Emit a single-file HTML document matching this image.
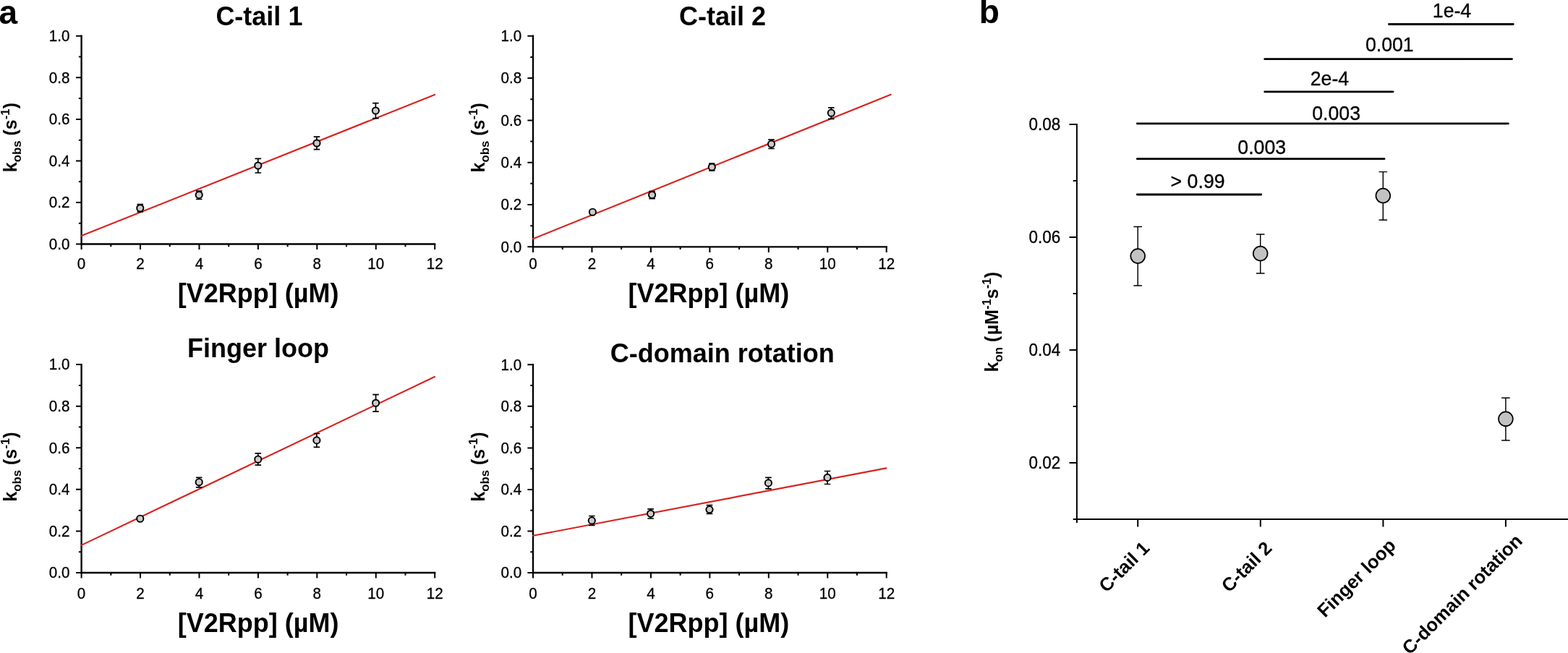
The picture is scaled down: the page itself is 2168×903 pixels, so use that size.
<!DOCTYPE html>
<html lang="en">
<head>
<meta charset="utf-8">
<title>Figure: kobs vs [V2Rpp] and kon comparison</title>
<style>
html,body{margin:0;padding:0;background:#fff;}
body{width:2168px;height:903px;overflow:hidden;}
svg{display:block;}
text{font-family:'Liberation Sans', sans-serif;fill:#000;}
.tk{font-size:20.6px;stroke:#000;stroke-width:0.3px;}
.tt{font-size:36px;font-weight:bold;}
.yt{font-size:25px;font-weight:bold;}
.sb{font-size:16.8px;}
.pl{font-size:46px;font-weight:bold;}
.bk{font-size:22.5px;stroke:#000;stroke-width:0.3px;}
.pv{font-size:26.7px;stroke:#000;stroke-width:0.3px;}
.xl{font-size:25.8px;font-weight:bold;}
</style>
</head>
<body>
<svg width="2168" height="903" viewBox="0 0 2168 903">
<rect width="2168" height="903" fill="#fff"/>
<text class="pl" x="-1.6" y="32.6">a</text>
<text class="pl" x="1353.7" y="32.4">b</text>
<g><path d="M112.6 48.62 V337.5 H602.38" fill="none" stroke="#000" stroke-width="2.35" stroke-linejoin="miter"/>
<path d="M105 337.5h7.6M108.9 308.73h3.7M105 279.96h7.6M108.9 251.19h3.7M105 222.42h7.6M108.9 193.65h3.7M105 164.88h7.6M108.9 136.11h3.7M105 107.34h7.6M108.9 78.57h3.7M105 49.8h7.6M112.6 337.5v7.6M153.32 337.5v3.7M194.03 337.5v7.6M234.75 337.5v3.7M275.47 337.5v7.6M316.18 337.5v3.7M356.9 337.5v7.6M397.62 337.5v3.7M438.33 337.5v7.6M479.05 337.5v3.7M519.77 337.5v7.6M560.48 337.5v3.7M601.2 337.5v7.6" fill="none" stroke="#000" stroke-width="2"/>
<line x1="112.6" y1="326.1" x2="601" y2="130.9" stroke="#d8231f" stroke-width="2.15" stroke-linecap="round"/>
<path d="M193.8 282.6V293M189.5 282.6h8.6M189.5 293h8.6" fill="none" stroke="#000" stroke-width="1.7"/>
<circle cx="193.8" cy="287.8" r="4.6" fill="#cbcbcb" stroke="#000" stroke-width="1.95"/>
<path d="M275.2 264.2V275.5M270.9 264.2h8.6M270.9 275.5h8.6" fill="none" stroke="#000" stroke-width="1.7"/>
<circle cx="275.2" cy="269.5" r="4.6" fill="#cbcbcb" stroke="#000" stroke-width="1.95"/>
<path d="M356.8 219.4V239M352.5 219.4h8.6M352.5 239h8.6" fill="none" stroke="#000" stroke-width="1.7"/>
<circle cx="356.8" cy="229" r="4.6" fill="#cbcbcb" stroke="#000" stroke-width="1.95"/>
<path d="M438 189.2V206.7M433.7 189.2h8.6M433.7 206.7h8.6" fill="none" stroke="#000" stroke-width="1.7"/>
<circle cx="438" cy="198" r="4.6" fill="#cbcbcb" stroke="#000" stroke-width="1.95"/>
<path d="M519.4 142.7V163.7M515.1 142.7h8.6M515.1 163.7h8.6" fill="none" stroke="#000" stroke-width="1.7"/>
<circle cx="519.4" cy="153" r="4.6" fill="#cbcbcb" stroke="#000" stroke-width="1.95"/>
<text class="tk" transform="translate(96.4 344.75) scale(1 1.03)" text-anchor="end">0.0</text>
<text class="tk" transform="translate(96.4 287.21) scale(1 1.03)" text-anchor="end">0.2</text>
<text class="tk" transform="translate(96.4 229.67) scale(1 1.03)" text-anchor="end">0.4</text>
<text class="tk" transform="translate(96.4 172.13) scale(1 1.03)" text-anchor="end">0.6</text>
<text class="tk" transform="translate(96.4 114.59) scale(1 1.03)" text-anchor="end">0.8</text>
<text class="tk" transform="translate(96.4 57.05) scale(1 1.03)" text-anchor="end">1.0</text>
<text class="tk" transform="translate(112.6 372.2) scale(1 1.03)" text-anchor="middle">0</text>
<text class="tk" transform="translate(194.03 372.2) scale(1 1.03)" text-anchor="middle">2</text>
<text class="tk" transform="translate(275.47 372.2) scale(1 1.03)" text-anchor="middle">4</text>
<text class="tk" transform="translate(356.9 372.2) scale(1 1.03)" text-anchor="middle">6</text>
<text class="tk" transform="translate(438.33 372.2) scale(1 1.03)" text-anchor="middle">8</text>
<text class="tk" transform="translate(519.77 372.2) scale(1 1.03)" text-anchor="middle">10</text>
<text class="tk" transform="translate(601.2 372.2) scale(1 1.03)" text-anchor="middle">12</text>
<text class="tt" x="358.4" y="34.9" text-anchor="middle">C-tail 1</text>
<text class="tt" x="357.2" y="417.5" text-anchor="middle">[V2Rpp] (µM)</text>
<text class="yt" transform="translate(22.9 238.2) rotate(-90)">k<tspan class="sb" dy="6.2">obs</tspan><tspan dy="-6.2"> (s</tspan><tspan class="sb" dy="-10.2">-1</tspan><tspan dy="10.2">)</tspan></text></g>
<g><path d="M737 48.62 V341.3 H1226.88" fill="none" stroke="#000" stroke-width="2.35" stroke-linejoin="miter"/>
<path d="M729.4 341.3h7.6M733.3 312.15h3.7M729.4 283h7.6M733.3 253.85h3.7M729.4 224.7h7.6M733.3 195.55h3.7M729.4 166.4h7.6M733.3 137.25h3.7M729.4 108.1h7.6M733.3 78.95h3.7M729.4 49.8h7.6M737 341.3v7.6M777.73 341.3v3.7M818.45 341.3v7.6M859.17 341.3v3.7M899.9 341.3v7.6M940.62 341.3v3.7M981.35 341.3v7.6M1022.08 341.3v3.7M1062.8 341.3v7.6M1103.53 341.3v3.7M1144.25 341.3v7.6M1184.97 341.3v3.7M1225.7 341.3v7.6" fill="none" stroke="#000" stroke-width="2"/>
<line x1="737" y1="330.3" x2="1231.7" y2="130.7" stroke="#d8231f" stroke-width="2.15" stroke-linecap="round"/>
<circle cx="819.4" cy="293.2" r="4.6" fill="#cbcbcb" stroke="#000" stroke-width="1.95"/>
<path d="M901.6 264.6V274.7M897.3 264.6h8.6M897.3 274.7h8.6" fill="none" stroke="#000" stroke-width="1.7"/>
<circle cx="901.6" cy="269.5" r="4.6" fill="#cbcbcb" stroke="#000" stroke-width="1.95"/>
<path d="M984.3 226V236M980 226h8.6M980 236h8.6" fill="none" stroke="#000" stroke-width="1.7"/>
<circle cx="984.3" cy="231" r="4.6" fill="#cbcbcb" stroke="#000" stroke-width="1.95"/>
<path d="M1066.5 193.1V205.5M1062.2 193.1h8.6M1062.2 205.5h8.6" fill="none" stroke="#000" stroke-width="1.7"/>
<circle cx="1066.5" cy="199.2" r="4.6" fill="#cbcbcb" stroke="#000" stroke-width="1.95"/>
<path d="M1149.3 148.8V164.3M1145 148.8h8.6M1145 164.3h8.6" fill="none" stroke="#000" stroke-width="1.7"/>
<circle cx="1149.3" cy="156.2" r="4.6" fill="#cbcbcb" stroke="#000" stroke-width="1.95"/>
<text class="tk" transform="translate(721.1 348.55) scale(1 1.03)" text-anchor="end">0.0</text>
<text class="tk" transform="translate(721.1 290.25) scale(1 1.03)" text-anchor="end">0.2</text>
<text class="tk" transform="translate(721.1 231.95) scale(1 1.03)" text-anchor="end">0.4</text>
<text class="tk" transform="translate(721.1 173.65) scale(1 1.03)" text-anchor="end">0.6</text>
<text class="tk" transform="translate(721.1 115.35) scale(1 1.03)" text-anchor="end">0.8</text>
<text class="tk" transform="translate(721.1 57.05) scale(1 1.03)" text-anchor="end">1.0</text>
<text class="tk" transform="translate(737 372.2) scale(1 1.03)" text-anchor="middle">0</text>
<text class="tk" transform="translate(818.45 372.2) scale(1 1.03)" text-anchor="middle">2</text>
<text class="tk" transform="translate(899.9 372.2) scale(1 1.03)" text-anchor="middle">4</text>
<text class="tk" transform="translate(981.35 372.2) scale(1 1.03)" text-anchor="middle">6</text>
<text class="tk" transform="translate(1062.8 372.2) scale(1 1.03)" text-anchor="middle">8</text>
<text class="tk" transform="translate(1144.25 372.2) scale(1 1.03)" text-anchor="middle">10</text>
<text class="tk" transform="translate(1225.7 372.2) scale(1 1.03)" text-anchor="middle">12</text>
<text class="tt" x="999" y="34.9" text-anchor="middle">C-tail 2</text>
<text class="tt" x="979.8" y="417.5" text-anchor="middle">[V2Rpp] (µM)</text>
<text class="yt" transform="translate(669.9 238.4) rotate(-90)">k<tspan class="sb" dy="6.2">obs</tspan><tspan dy="-6.2"> (s</tspan><tspan class="sb" dy="-10.2">-1</tspan><tspan dy="10.2">)</tspan></text></g>
<g><path d="M112.6 502.93 V792 H602.38" fill="none" stroke="#000" stroke-width="2.35" stroke-linejoin="miter"/>
<path d="M105 792h7.6M108.9 763.21h3.7M105 734.42h7.6M108.9 705.63h3.7M105 676.84h7.6M108.9 648.05h3.7M105 619.26h7.6M108.9 590.47h3.7M105 561.68h7.6M108.9 532.89h3.7M105 504.1h7.6M112.6 792v7.6M153.32 792v3.7M194.03 792v7.6M234.75 792v3.7M275.47 792v7.6M316.18 792v3.7M356.9 792v7.6M397.62 792v3.7M438.33 792v7.6M479.05 792v3.7M519.77 792v7.6M560.48 792v3.7M601.2 792v7.6" fill="none" stroke="#000" stroke-width="2"/>
<line x1="112.6" y1="753.9" x2="601" y2="521" stroke="#d8231f" stroke-width="2.15" stroke-linecap="round"/>
<circle cx="193.8" cy="717.2" r="4.6" fill="#cbcbcb" stroke="#000" stroke-width="1.95"/>
<path d="M275.2 660.4V673.9M270.9 660.4h8.6M270.9 673.9h8.6" fill="none" stroke="#000" stroke-width="1.7"/>
<circle cx="275.2" cy="666.7" r="4.6" fill="#cbcbcb" stroke="#000" stroke-width="1.95"/>
<path d="M356.8 626.9V643.2M352.5 626.9h8.6M352.5 643.2h8.6" fill="none" stroke="#000" stroke-width="1.7"/>
<circle cx="356.8" cy="635.2" r="4.6" fill="#cbcbcb" stroke="#000" stroke-width="1.95"/>
<path d="M437.9 599.5V618.4M433.6 599.5h8.6M433.6 618.4h8.6" fill="none" stroke="#000" stroke-width="1.7"/>
<circle cx="437.9" cy="608.9" r="4.6" fill="#cbcbcb" stroke="#000" stroke-width="1.95"/>
<path d="M519.6 545.7V569.2M515.3 545.7h8.6M515.3 569.2h8.6" fill="none" stroke="#000" stroke-width="1.7"/>
<circle cx="519.6" cy="557.3" r="4.6" fill="#cbcbcb" stroke="#000" stroke-width="1.95"/>
<text class="tk" transform="translate(96.4 799.25) scale(1 1.03)" text-anchor="end">0.0</text>
<text class="tk" transform="translate(96.4 741.67) scale(1 1.03)" text-anchor="end">0.2</text>
<text class="tk" transform="translate(96.4 684.09) scale(1 1.03)" text-anchor="end">0.4</text>
<text class="tk" transform="translate(96.4 626.51) scale(1 1.03)" text-anchor="end">0.6</text>
<text class="tk" transform="translate(96.4 568.93) scale(1 1.03)" text-anchor="end">0.8</text>
<text class="tk" transform="translate(96.4 511.35) scale(1 1.03)" text-anchor="end">1.0</text>
<text class="tk" transform="translate(112.6 828.4) scale(1 1.03)" text-anchor="middle">0</text>
<text class="tk" transform="translate(194.03 828.4) scale(1 1.03)" text-anchor="middle">2</text>
<text class="tk" transform="translate(275.47 828.4) scale(1 1.03)" text-anchor="middle">4</text>
<text class="tk" transform="translate(356.9 828.4) scale(1 1.03)" text-anchor="middle">6</text>
<text class="tk" transform="translate(438.33 828.4) scale(1 1.03)" text-anchor="middle">8</text>
<text class="tk" transform="translate(519.77 828.4) scale(1 1.03)" text-anchor="middle">10</text>
<text class="tk" transform="translate(601.2 828.4) scale(1 1.03)" text-anchor="middle">12</text>
<text class="tt" x="357.1" y="493.7" text-anchor="middle">Finger loop</text>
<text class="tt" x="357.2" y="874.1" text-anchor="middle">[V2Rpp] (µM)</text>
<text class="yt" transform="translate(22.9 693.7) rotate(-90)">k<tspan class="sb" dy="6.2">obs</tspan><tspan dy="-6.2"> (s</tspan><tspan class="sb" dy="-10.2">-1</tspan><tspan dy="10.2">)</tspan></text></g>
<g><path d="M737 503.12 V792 H1226.88" fill="none" stroke="#000" stroke-width="2.35" stroke-linejoin="miter"/>
<path d="M729.4 792h7.6M733.3 763.23h3.7M729.4 734.46h7.6M733.3 705.69h3.7M729.4 676.92h7.6M733.3 648.15h3.7M729.4 619.38h7.6M733.3 590.61h3.7M729.4 561.84h7.6M733.3 533.07h3.7M729.4 504.3h7.6M737 792v7.6M777.73 792v3.7M818.45 792v7.6M859.17 792v3.7M899.9 792v7.6M940.62 792v3.7M981.35 792v7.6M1022.08 792v3.7M1062.8 792v7.6M1103.53 792v3.7M1144.25 792v7.6M1184.97 792v3.7M1225.7 792v7.6" fill="none" stroke="#000" stroke-width="2"/>
<line x1="737" y1="740.8" x2="1225.4" y2="647.4" stroke="#d8231f" stroke-width="2.15" stroke-linecap="round"/>
<path d="M818.3 713.5V726.4M814 713.5h8.6M814 726.4h8.6" fill="none" stroke="#000" stroke-width="1.7"/>
<circle cx="818.3" cy="719.9" r="4.6" fill="#cbcbcb" stroke="#000" stroke-width="1.95"/>
<path d="M899.6 703.9V717M895.3 703.9h8.6M895.3 717h8.6" fill="none" stroke="#000" stroke-width="1.7"/>
<circle cx="899.6" cy="710.3" r="4.6" fill="#cbcbcb" stroke="#000" stroke-width="1.95"/>
<path d="M981 698.7V710.3M976.7 698.7h8.6M976.7 710.3h8.6" fill="none" stroke="#000" stroke-width="1.7"/>
<circle cx="981" cy="704.6" r="4.6" fill="#cbcbcb" stroke="#000" stroke-width="1.95"/>
<path d="M1062.4 660.3V675.8M1058.1 660.3h8.6M1058.1 675.8h8.6" fill="none" stroke="#000" stroke-width="1.7"/>
<circle cx="1062.4" cy="667.9" r="4.6" fill="#cbcbcb" stroke="#000" stroke-width="1.95"/>
<path d="M1144 651.5V669.5M1139.7 651.5h8.6M1139.7 669.5h8.6" fill="none" stroke="#000" stroke-width="1.7"/>
<circle cx="1144" cy="660.4" r="4.6" fill="#cbcbcb" stroke="#000" stroke-width="1.95"/>
<text class="tk" transform="translate(721.1 799.25) scale(1 1.03)" text-anchor="end">0.0</text>
<text class="tk" transform="translate(721.1 741.71) scale(1 1.03)" text-anchor="end">0.2</text>
<text class="tk" transform="translate(721.1 684.17) scale(1 1.03)" text-anchor="end">0.4</text>
<text class="tk" transform="translate(721.1 626.63) scale(1 1.03)" text-anchor="end">0.6</text>
<text class="tk" transform="translate(721.1 569.09) scale(1 1.03)" text-anchor="end">0.8</text>
<text class="tk" transform="translate(721.1 511.55) scale(1 1.03)" text-anchor="end">1.0</text>
<text class="tk" transform="translate(737 828.4) scale(1 1.03)" text-anchor="middle">0</text>
<text class="tk" transform="translate(818.45 828.4) scale(1 1.03)" text-anchor="middle">2</text>
<text class="tk" transform="translate(899.9 828.4) scale(1 1.03)" text-anchor="middle">4</text>
<text class="tk" transform="translate(981.35 828.4) scale(1 1.03)" text-anchor="middle">6</text>
<text class="tk" transform="translate(1062.8 828.4) scale(1 1.03)" text-anchor="middle">8</text>
<text class="tk" transform="translate(1144.25 828.4) scale(1 1.03)" text-anchor="middle">10</text>
<text class="tk" transform="translate(1225.7 828.4) scale(1 1.03)" text-anchor="middle">12</text>
<text class="tt" x="998.8" y="500.7" text-anchor="middle">C-domain rotation</text>
<text class="tt" x="979.8" y="874.1" text-anchor="middle">[V2Rpp] (µM)</text>
<text class="yt" transform="translate(669.9 693.7) rotate(-90)">k<tspan class="sb" dy="6.2">obs</tspan><tspan dy="-6.2"> (s</tspan><tspan class="sb" dy="-10.2">-1</tspan><tspan dy="10.2">)</tspan></text></g>
<g><path d="M1488.9 171.1V723M1483.7 718H2170" fill="none" stroke="#000" stroke-width="2"/>
<path d="M1478.5 640h10.4M1483.7 562.02h5.2M1478.5 484.03h10.4M1483.7 406.05h5.2M1478.5 328.07h10.4M1483.7 250.08h5.2M1478.5 172.1h10.4M1573.2 718v10.4M1742.8 718v10.4M1912.4 718v10.4M2081.9 718v10.4" fill="none" stroke="#000" stroke-width="2"/>
<text class="bk" transform="translate(1466.2 648.1) scale(1 1.03)" text-anchor="end">0.02</text>
<text class="bk" transform="translate(1466.2 492.13) scale(1 1.03)" text-anchor="end">0.04</text>
<text class="bk" transform="translate(1466.2 336.17) scale(1 1.03)" text-anchor="end">0.06</text>
<text class="bk" transform="translate(1466.2 180.2) scale(1 1.03)" text-anchor="end">0.08</text>
<line x1="1920.5" y1="33.5" x2="2092.2" y2="33.5" stroke="#000" stroke-width="2.8" stroke-linecap="round"/>
<text class="pv" transform="translate(2007.5 23.8) scale(1 1.03)" text-anchor="middle">1e-4</text>
<line x1="1748.7" y1="81.7" x2="2090.5" y2="81.7" stroke="#000" stroke-width="2.8" stroke-linecap="round"/>
<text class="pv" transform="translate(1921.3 71) scale(1 1.03)" text-anchor="middle">0.001</text>
<line x1="1748.7" y1="126.8" x2="1926.1" y2="126.8" stroke="#000" stroke-width="2.8" stroke-linecap="round"/>
<text class="pv" transform="translate(1838.4 118.1) scale(1 1.03)" text-anchor="middle">2e-4</text>
<line x1="1572.3" y1="170.8" x2="2085.4" y2="170.8" stroke="#000" stroke-width="2.8" stroke-linecap="round"/>
<text class="pv" transform="translate(1847.6 165.6) scale(1 1.03)" text-anchor="middle">0.003</text>
<line x1="1572.3" y1="219.7" x2="1914" y2="219.7" stroke="#000" stroke-width="2.8" stroke-linecap="round"/>
<text class="pv" transform="translate(1744.7 212.6) scale(1 1.03)" text-anchor="middle">0.003</text>
<line x1="1572.3" y1="269" x2="1743.7" y2="269" stroke="#000" stroke-width="2.8" stroke-linecap="round"/>
<text class="pv" transform="translate(1656.1 259.7) scale(1 1.03)" text-anchor="middle">&gt; 0.99</text>
<path d="M1573.2 313.5V394.9M1567.4 313.5h11.6M1567.4 394.9h11.6" fill="none" stroke="#000" stroke-width="1.45"/>
<circle cx="1573.2" cy="354.1" r="9.9" fill="#c2c2c2" stroke="#000" stroke-width="1.7"/>
<path d="M1742.7 323.9V378M1736.9 323.9h11.6M1736.9 378h11.6" fill="none" stroke="#000" stroke-width="1.45"/>
<circle cx="1742.7" cy="350.6" r="9.9" fill="#c2c2c2" stroke="#000" stroke-width="1.7"/>
<path d="M1912.3 237.6V304.2M1906.5 237.6h11.6M1906.5 304.2h11.6" fill="none" stroke="#000" stroke-width="1.45"/>
<circle cx="1912.3" cy="270.6" r="9.9" fill="#c2c2c2" stroke="#000" stroke-width="1.7"/>
<path d="M2081.9 550.2V608.9M2076.1 550.2h11.6M2076.1 608.9h11.6" fill="none" stroke="#000" stroke-width="1.45"/>
<circle cx="2081.9" cy="579.3" r="9.9" fill="#c2c2c2" stroke="#000" stroke-width="1.7"/>
<text class="yt" transform="translate(1379.9 514.4) rotate(-90)">k<tspan class="sb" dy="6.2">on</tspan><tspan dy="-6.2"> (</tspan><tspan dx="1.4">µM</tspan><tspan class="sb" dy="-10.2">-1</tspan><tspan dy="10.2">s</tspan><tspan class="sb" dy="-10.2">-1</tspan><tspan dy="10.2">)</tspan></text>
<text class="xl" transform="translate(1590.8 759.7) rotate(-45)" text-anchor="end">C-tail 1</text>
<text class="xl" transform="translate(1760.2 759.7) rotate(-45)" text-anchor="end">C-tail 2</text>
<text class="xl" transform="translate(1931.4 755.8) rotate(-45)" text-anchor="end">Finger loop</text>
<text class="xl" transform="translate(2106.3 749.5) rotate(-45)" text-anchor="end">C-domain rotation</text></g>
</svg>
</body>
</html>
